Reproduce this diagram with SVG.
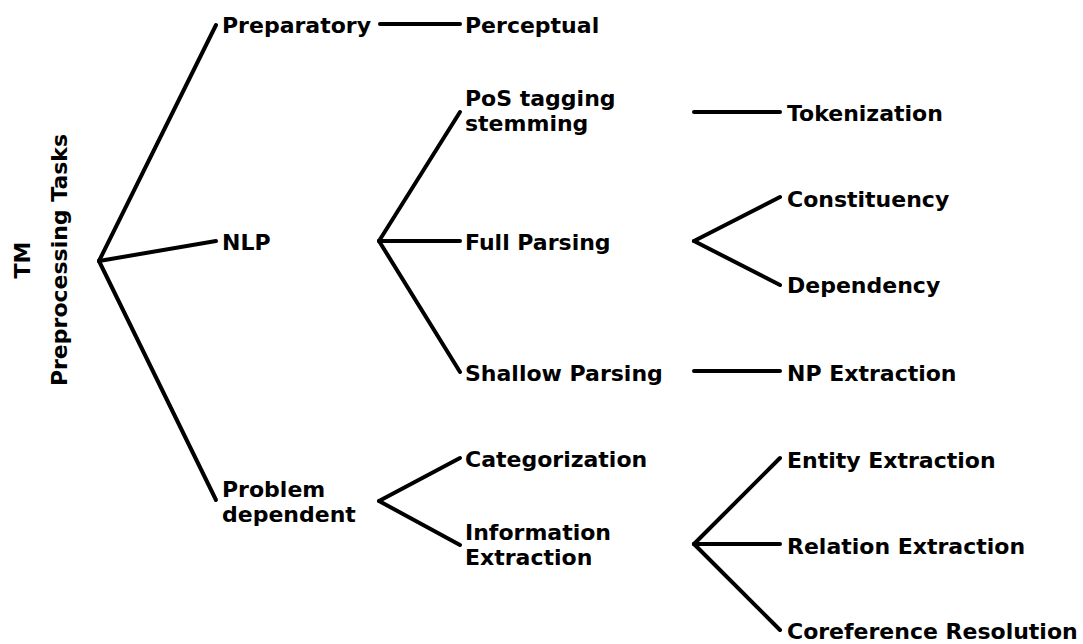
<svg xmlns="http://www.w3.org/2000/svg" width="1083" height="644" viewBox="0 0 1083 644">
  <style>
    text { font-family: "DejaVu Sans", "Liberation Sans", sans-serif; font-size: 22px; font-weight: bold; fill: #000; }
    .edge { stroke: #000; stroke-width: 4; stroke-linecap: round; fill: none; }
  </style>
  <rect width="1083" height="644" fill="#fff"/>

  <!-- connectors -->
  <g id="connectors">
    <path class="edge" d="M99 261 L216 25"/>
    <path class="edge" d="M99 261 L216 241"/>
    <path class="edge" d="M99 261 L216 500"/>
    <path class="edge" d="M380 24 L460 24"/>
    <path class="edge" d="M379 241 L460 112"/>
    <path class="edge" d="M379 241 L460 241"/>
    <path class="edge" d="M379 241 L460 372"/>
    <path class="edge" d="M694 112 L780 112"/>
    <path class="edge" d="M694 241 L780 197"/>
    <path class="edge" d="M694 241 L780 285"/>
    <path class="edge" d="M694 371 L780 371"/>
    <path class="edge" d="M379 501 L460 458"/>
    <path class="edge" d="M379 501 L460 545"/>
    <path class="edge" d="M694 544 L780 458"/>
    <path class="edge" d="M694 544 L780 544"/>
    <path class="edge" d="M694 544 L780 630"/>
  </g>

  <!-- root title -->
  <g id="root">
    <text transform="translate(30 260) rotate(-90)" text-anchor="middle">TM</text>
    <text transform="translate(67 260) rotate(-90)" text-anchor="middle">Preprocessing Tasks</text>
  </g>

  <!-- first level -->
  <g id="preparatory"><text x="222" y="33">Preparatory</text></g>
  <g id="nlp"><text x="222" y="250">NLP</text></g>
  <g id="problem-dependent"><text x="222" y="497">Problem</text><text x="222" y="522">dependent</text></g>

  <!-- second level -->
  <g id="perceptual"><text x="465" y="33">Perceptual</text></g>
  <g id="pos-tagging"><text x="465" y="106">PoS tagging</text><text x="465" y="131">stemming</text></g>
  <g id="full-parsing"><text x="465" y="250">Full Parsing</text></g>
  <g id="shallow-parsing"><text x="465" y="381">Shallow Parsing</text></g>
  <g id="categorization"><text x="465" y="467">Categorization</text></g>
  <g id="information-extraction"><text x="465" y="540">Information</text><text x="465" y="565">Extraction</text></g>

  <!-- third level -->
  <g id="tokenization"><text x="787" y="121">Tokenization</text></g>
  <g id="constituency"><text x="787" y="207">Constituency</text></g>
  <g id="dependency"><text x="787" y="293">Dependency</text></g>
  <g id="np-extraction"><text x="787" y="381">NP Extraction</text></g>
  <g id="entity-extraction"><text x="787" y="468">Entity Extraction</text></g>
  <g id="relation-extraction"><text x="787" y="554">Relation Extraction</text></g>
  <g id="coreference-resolution"><text x="787" y="639">Coreference Resolution</text></g>
</svg>
